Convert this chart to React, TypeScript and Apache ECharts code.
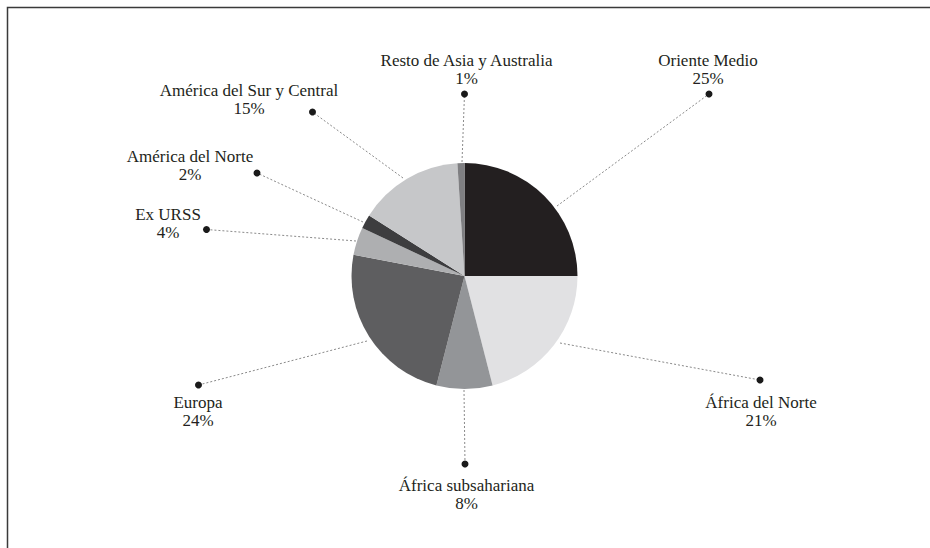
import React, { useEffect, useRef } from "react";
import * as echarts from "echarts";

const regions = [
  "Oriente Medio",
  "África del Norte",
  "África subsahariana",
  "Europa",
  "Ex URSS",
  "América del Norte",
  "América del Sur y Central",
  "Resto de Asia y Australia",
];
const shares = [25, 21, 8, 24, 4, 2, 15, 1];

const sliceColors = ["#231f20", "#e1e1e3", "#939598", "#5e5e60", "#aeafb1", "#3d3d3f", "#c6c7c9", "#7f7f82"];

// label layout: label center, leader line start (on pie), dot position
const labelLayouts = [
  { lx: 708, ly: 69, sx: 557, sy: 206, dx: 709, dy: 94 },
  { lx: 761, ly: 411, sx: 560, sy: 343, dx: 760, dy: 380 },
  { lx: 466.5, ly: 494, sx: 464, sy: 390, dx: 465, dy: 464 },
  { lx: 198, ly: 411, sx: 367, sy: 341, dx: 198.5, dy: 385 },
  { lx: 168, ly: 223, sx: 356, sy: 241, dx: 206.5, dy: 229.5 },
  { lx: 190, ly: 165, sx: 363, sy: 222, dx: 257, dy: 173 },
  { lx: 249, ly: 99, sx: 403, sy: 178, dx: 312.5, dy: 112 },
  { lx: 466.5, ly: 69, sx: 462, sy: 162, dx: 464.5, dy: 94 },
];

export default function App() {
  const ref = useRef<HTMLDivElement>(null);
  useEffect(() => {
    if (!ref.current) return;
    const chart = echarts.init(ref.current, null, { renderer: "svg" });
    const data = regions.map((name, i) => ({
      name,
      value: shares[i],
      itemStyle: { color: sliceColors[i] },
    }));
    chart.setOption({
      animation: false,
      backgroundColor: "#ffffff",
      textStyle: { fontFamily: "serif" },
      graphic: [
        {
          type: "rect",
          shape: { x: 7.5, y: 7.5, width: 1200, height: 1200 },
          style: { fill: "none", stroke: "#3a3a3a", lineWidth: 1.5 },
          silent: true,
          z: 0,
        },
        ...labelLayouts.map((l) => ({
          type: "circle",
          shape: { cx: l.dx, cy: l.dy, r: 3.5 },
          style: { fill: "#1a1a1a" },
          silent: true,
          z: 10,
        })),
      ],
      series: [
        {
          type: "pie",
          center: [464.5, 276],
          radius: 113,
          startAngle: 90,
          clockwise: true,
          avoidLabelOverlap: false,
          itemStyle: { borderWidth: 0 },
          data,
          label: {
            show: true,
            position: "outside",
            formatter: "{b}\n{c}%",
            fontFamily: "serif",
            fontSize: 17,
            lineHeight: 18,
            color: "#231f20",
            align: "center",
          },
          labelLine: {
            show: true,
            lineStyle: { color: "#8a8a8a", width: 1, type: [2, 2] },
          },
          labelLayout: (p: any) => {
            const l = labelLayouts[p.dataIndex];
            return {
              x: l.lx,
              y: l.ly,
              align: "center",
              verticalAlign: "middle",
              labelLinePoints: [
                [l.sx, l.sy],
                [(l.sx + l.dx) / 2, (l.sy + l.dy) / 2],
                [l.dx, l.dy],
              ],
            };
          },
        },
      ],
    });
    return () => chart.dispose();
  }, []);
  return (
    <div
      ref={ref}
      style={{ position: "fixed", left: 0, top: 0, width: 930, height: 548 }}
    />
  );
}
